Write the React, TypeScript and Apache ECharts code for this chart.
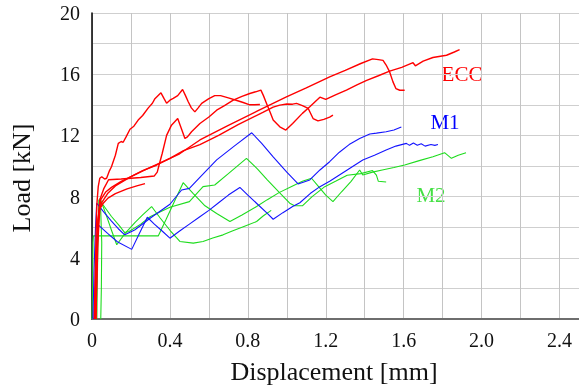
import React, { useEffect, useRef } from 'react';
import * as echarts from 'echarts';

// Tick labels
const xLabelValues = [0, 0.4, 0.8, 1.2, 1.6, 2.0, 2.4];
const xLabelTexts = ['0', '0.4', '0.8', '1.2', '1.6', '2.0', '2.4'];
const yLabelValues = [0, 4, 8, 12, 16, 20];

// ECC specimens (red)
const ecc1: [number, number][] = [
  [0.012, 0], [0.015, 2], [0.02, 5], [0.025, 7.5], [0.032, 8.65], [0.04, 9.2], [0.05, 9.3], [0.065, 9.15],
  [0.075, 9.2], [0.09, 9.7], [0.1, 9.95], [0.12, 10.7], [0.135, 11.48], [0.15, 11.6], [0.16, 11.55],
  [0.175, 11.9], [0.195, 12.4], [0.215, 12.6], [0.237, 13.0], [0.26, 13.3], [0.289, 13.8], [0.31, 14.1],
  [0.323, 14.4], [0.354, 14.78], [0.37, 14.4], [0.383, 14.1], [0.4, 14.3], [0.417, 14.42], [0.44, 14.6],
  [0.465, 15.0], [0.48, 14.6], [0.494, 14.2], [0.51, 13.8], [0.528, 13.54], [0.545, 13.8], [0.563, 14.09],
  [0.6, 14.4], [0.63, 14.6], [0.66, 14.6], [0.7, 14.45], [0.74, 14.3], [0.776, 14.15], [0.81, 14.0],
  [0.835, 14.0], [0.862, 14.02],
];
const ecc2: [number, number][] = [
  [0.018, 0], [0.022, 3], [0.03, 6], [0.04, 7.8], [0.06, 8.5], [0.085, 9.1], [0.15, 9.15], [0.25, 9.25],
  [0.32, 9.35], [0.335, 9.6], [0.345, 10.1], [0.36, 10.8], [0.383, 12.0], [0.408, 12.67], [0.44, 13.1],
  [0.46, 12.4], [0.477, 11.8], [0.49, 11.9], [0.511, 12.24], [0.554, 12.78], [0.6, 13.2], [0.64, 13.65],
  [0.68, 13.95], [0.725, 14.3], [0.77, 14.55], [0.81, 14.74], [0.84, 14.85], [0.867, 14.96], [0.88, 14.6],
  [0.896, 14.09], [0.915, 13.5], [0.93, 13.0], [0.964, 12.56], [0.995, 12.35], [1.03, 12.78], [1.08, 13.44],
  [1.118, 13.87], [1.17, 14.5], [1.2, 14.35], [1.25, 14.65], [1.306, 14.96], [1.36, 15.3], [1.41, 15.6],
  [1.47, 15.9], [1.528, 16.2], [1.59, 16.45], [1.648, 16.75], [1.66, 16.55], [1.7, 16.85], [1.75, 17.09],
  [1.82, 17.24], [1.86, 17.45], [1.887, 17.6],
];
const ecc3: [number, number][] = [
  [0.02, 0], [0.025, 4], [0.035, 7], [0.05, 7.6], [0.08, 8.2], [0.12, 8.7], [0.2, 9.3], [0.28, 9.8],
  [0.35, 10.2], [0.45, 10.8], [0.554, 11.7], [0.7, 12.65], [0.85, 13.6], [0.998, 14.52], [1.1, 15.1],
  [1.22, 15.83], [1.3, 16.25], [1.38, 16.7], [1.44, 17.0], [1.47, 16.95], [1.494, 16.9], [1.51, 16.6],
  [1.528, 16.15], [1.545, 15.5], [1.56, 15.06], [1.58, 14.95], [1.605, 14.95],
];
const ecc4: [number, number][] = [
  [0.015, 0], [0.02, 3], [0.03, 6.5], [0.045, 7.8], [0.07, 8.3], [0.1, 8.6], [0.15, 9.0], [0.2, 9.3],
  [0.26, 9.7], [0.33, 10.05], [0.4, 10.5], [0.47, 11.0], [0.554, 11.4], [0.65, 12.0], [0.75, 12.7],
  [0.877, 13.5], [0.93, 13.85], [0.964, 13.98], [1.0, 14.05], [1.03, 14.04], [1.05, 14.09], [1.08, 13.95],
  [1.11, 13.76], [1.135, 13.1], [1.16, 12.95], [1.19, 13.05], [1.22, 13.2], [1.237, 13.32],
];
const ecc5: [number, number][] = [
  [0.02, 0], [0.03, 5], [0.04, 7.2], [0.06, 7.6], [0.082, 7.9], [0.12, 8.2], [0.18, 8.5], [0.23, 8.7],
  [0.272, 8.85],
];

// M1 specimens (blue)
const m1a: [number, number][] = [
  [0.01, 0], [0.015, 2], [0.02, 4], [0.025, 5.5], [0.032, 6.15], [0.08, 5.6], [0.13, 5.05], [0.204, 4.55],
  [0.24, 5.5], [0.284, 6.65], [0.32, 6.2], [0.36, 5.75], [0.4, 5.28], [0.45, 5.75], [0.5, 6.2], [0.55, 6.65],
  [0.6, 7.1], [0.65, 7.6], [0.7, 8.1], [0.759, 8.6], [0.8, 8.1], [0.85, 7.5], [0.9, 6.9], [0.93, 6.52],
  [0.98, 6.95], [1.03, 7.35], [1.067, 7.6], [1.12, 8.2], [1.17, 8.65], [1.22, 9.0], [1.27, 9.41],
  [1.33, 9.9], [1.39, 10.39], [1.45, 10.7], [1.51, 11.04], [1.56, 11.3], [1.614, 11.48], [1.63, 11.35],
  [1.65, 11.5], [1.67, 11.35], [1.69, 11.45], [1.71, 11.3], [1.74, 11.4], [1.76, 11.35], [1.776, 11.4],
];
const m1b: [number, number][] = [
  [0.005, 0], [0.01, 3], [0.018, 6], [0.024, 7.57], [0.06, 7.0], [0.1, 6.4], [0.135, 5.9], [0.168, 5.5],
  [0.219, 5.82], [0.3, 6.6], [0.4, 7.5], [0.46, 8.43], [0.5, 8.54], [0.55, 9.2], [0.64, 10.4], [0.73, 11.3],
  [0.82, 12.17], [0.87, 11.5], [0.93, 10.6], [1.0, 9.6], [1.058, 8.83], [1.118, 9.09], [1.17, 9.74],
  [1.22, 10.28], [1.27, 10.9], [1.32, 11.4], [1.374, 11.8], [1.426, 12.09], [1.46, 12.15], [1.51, 12.24],
  [1.55, 12.35], [1.588, 12.55],
];

// M2 specimens (green)
const m2a: [number, number][] = [
  [0.045, 0], [0.048, 2], [0.05, 5], [0.045, 7.0], [0.041, 7.89], [0.07, 6.9], [0.1, 5.8], [0.127, 4.85],
  [0.17, 5.6], [0.22, 6.3], [0.26, 6.8], [0.306, 7.35], [0.35, 6.6], [0.4, 5.8], [0.451, 5.07], [0.52, 4.96],
  [0.57, 5.07], [0.62, 5.3], [0.673, 5.5], [0.72, 5.75], [0.78, 6.05], [0.845, 6.37], [0.88, 6.75],
  [0.92, 7.1],
];
const m2b: [number, number][] = [
  [0.0, 0], [0.003, 2], [0.005, 5], [0.007, 5.43], [0.1, 5.43], [0.2, 5.43], [0.34, 5.43], [0.38, 6.5],
  [0.42, 7.6], [0.468, 8.91], [0.52, 8.2], [0.58, 7.4], [0.64, 6.9], [0.708, 6.37], [0.77, 6.8],
  [0.845, 7.35], [0.9, 7.8], [0.96, 8.26], [1.03, 8.7], [1.08, 9.0], [1.127, 9.2], [1.16, 8.7], [1.2, 8.1],
  [1.237, 7.67], [1.28, 8.3], [1.33, 9.0], [1.374, 9.74], [1.39, 9.41], [1.44, 9.6], [1.49, 9.74],
  [1.55, 9.9], [1.605, 10.06], [1.68, 10.35], [1.75, 10.6], [1.81, 10.87], [1.845, 10.5], [1.88, 10.7],
  [1.92, 10.87],
];
const m2c: [number, number][] = [
  [0.025, 0], [0.028, 3], [0.032, 6], [0.035, 7.8], [0.06, 7.4], [0.1, 6.7], [0.14, 6.1], [0.168, 5.65],
  [0.19, 5.72], [0.25, 6.2], [0.3, 6.7], [0.4, 7.3], [0.5, 7.67], [0.57, 8.65], [0.63, 8.76], [0.7, 9.5],
  [0.793, 10.5], [0.85, 9.8], [0.9, 9.1], [0.96, 8.3], [1.015, 7.57], [1.04, 7.4], [1.08, 7.4], [1.13, 8.0],
  [1.195, 8.65], [1.25, 9.0], [1.31, 9.4], [1.38, 9.5], [1.44, 9.7], [1.46, 9.4], [1.47, 9.0], [1.51, 8.95],
];

const RED = '#ff0000';
const BLUE = '#1414ff';
const GREEN = '#1edc1e';
const FONT = "'Liberation Serif', 'Times New Roman', serif";

export default function App() {
  const ref = useRef<HTMLDivElement>(null);
  useEffect(() => {
    const chart = echarts.init(ref.current!, null, { renderer: 'svg' });
    const mk = (data: [number, number][], color: string, width: number) => ({
      type: 'line',
      data,
      showSymbol: false,
      symbol: 'none',
      silent: true,
      lineStyle: { color, width },
    });
    chart.setOption({
      animation: false,
      textStyle: { fontFamily: FONT },
      grid: { left: 92, right: 0, top: 13, bottom: 70 },
      xAxis: [
        {
          type: 'value',
          min: 0,
          max: 2.5,
          interval: 0.2,
          axisLine: { show: true, onZero: false, lineStyle: { color: '#000', width: 2 } },
          axisTick: { show: false },
          splitLine: { show: true, lineStyle: { color: '#c4c4c4', width: 1 } },
          axisLabel: {
            margin: 11,
            fontSize: 20,
            fontFamily: FONT,
            color: '#111',
            showMaxLabel: false,
            formatter: (v: number) => {
              const i = xLabelValues.findIndex((t) => Math.abs(t - v) < 1e-6);
              return i >= 0 ? xLabelTexts[i] : '';
            },
          },
        },
        {
          type: 'value',
          position: 'top',
          min: 0,
          max: 2.5,
          axisLine: { show: true, lineStyle: { color: '#6e6e6e', width: 2 } },
          axisTick: { show: false },
          axisLabel: { show: false },
          splitLine: { show: false },
        },
      ],
      yAxis: {
        type: 'value',
        min: 0,
        max: 20,
        interval: 2,
        axisLine: { show: true, onZero: false, lineStyle: { color: '#000', width: 1.5 } },
        axisTick: { show: false },
        splitLine: { show: true, lineStyle: { color: '#cfcfcf', width: 1 } },
        axisLabel: {
          margin: 12,
          fontSize: 20,
          fontFamily: FONT,
          color: '#111',
          formatter: (v: number) => (yLabelValues.some((t) => Math.abs(t - v) < 1e-6) ? String(v) : ''),
        },
      },
      graphic: [
        {
          type: 'text', x: 21, y: 178, rotation: Math.PI / 2,
          style: { text: 'Load [kN]', font: `26px ${FONT}`, fill: '#111', align: 'center', verticalAlign: 'middle' },
        },
        {
          type: 'text', x: 334, y: 371,
          style: { text: 'Displacement [mm]', font: `26px ${FONT}`, fill: '#111', align: 'center', verticalAlign: 'middle' },
        },
        {
          type: 'text', x: 462, y: 74,
          style: { text: 'ECC', font: `21px ${FONT}`, fill: RED, align: 'center', verticalAlign: 'middle' },
        },
        {
          type: 'text', x: 445, y: 122,
          style: { text: 'M1', font: `21px ${FONT}`, fill: '#0000ff', align: 'center', verticalAlign: 'middle' },
        },
        {
          type: 'text', x: 431, y: 195,
          style: { text: 'M2', font: `21px ${FONT}`, fill: '#44e044', align: 'center', verticalAlign: 'middle' },
        },
      ],
      series: [
        mk(m2a, GREEN, 1.1),
        mk(m2b, GREEN, 1.1),
        mk(m2c, GREEN, 1.1),
        mk(m1a, BLUE, 1.1),
        mk(m1b, BLUE, 1.1),
        mk(ecc1, RED, 1.4),
        mk(ecc2, RED, 1.4),
        mk(ecc3, RED, 1.4),
        mk(ecc4, RED, 1.4),
        mk(ecc5, RED, 1.4),
      ],
    });
    return () => chart.dispose();
  }, []);
  return <div ref={ref} style={{ position: 'fixed', left: 0, top: 0, width: 579, height: 389 }} />;
}
